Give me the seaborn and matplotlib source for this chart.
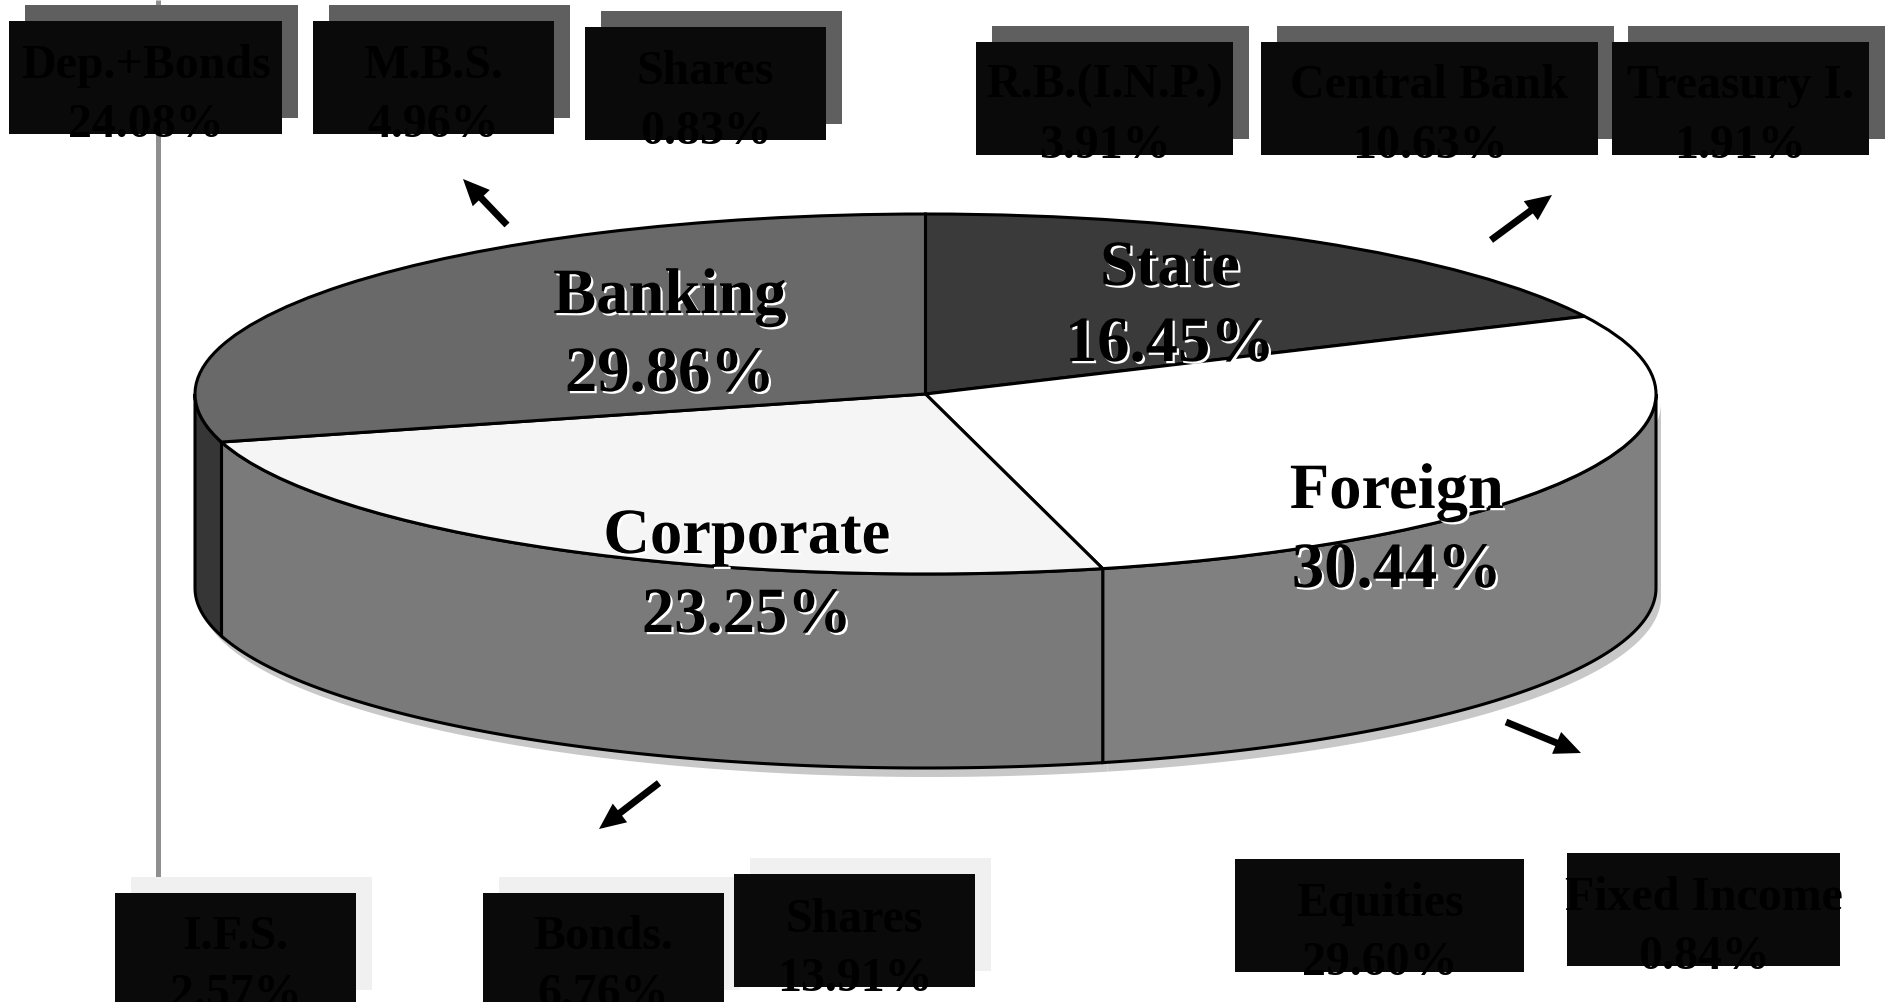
import numpy as np
import matplotlib
matplotlib.use("Agg")
import matplotlib.pyplot as plt
import matplotlib.patheffects as pe
from matplotlib.patches import Rectangle
import seaborn as sns

# pie data, clockwise from the top
sector_names = ["State", "Foreign", "Corporate", "Banking"]
sector_shares = [16.45, 30.44, 23.25, 29.86]
# slice sizes as they are drawn in the picture, the tilted view does not follow the printed shares
sector_drawn = [17.9, 28.2, 24.6, 29.3]

# small boxes around the pie
box_names = ["Dep.+Bonds", "M.B.S.", "Shares", "R.B.(I.N.P.)", "Central Bank", "Treasury I.",
             "I.F.S.", "Bonds.", "Shares", "Equities", "Fixed Income"]
box_shares = [24.08, 4.96, 0.83, 3.91, 10.63, 1.91, 2.57, 6.76, 13.91, 29.60, 0.84]

# layout in pixels: left, right, top of each box, first and second baseline
box_left = [9, 313, 585, 976, 1261, 1612, 115, 483, 734, 1235, 1567]
box_right = [282, 554, 826, 1233, 1598, 1869, 356, 724, 975, 1524, 1840]
box_top = [21, 21, 27, 42, 42, 42, 893, 893, 874, 859, 853]
box_base1 = [78, 78, 84, 98, 98, 98, 949, 949, 932, 916, 910]
box_base2 = [137, 137, 144, 158, 158, 158, 1007, 1007, 991, 975, 969]
box_shadow = ["#5f5f5f"] * 6 + ["#f0f0f0"] * 3 + ["white"] * 2
box_h = 113

label_x = [1170, 1397, 747, 670]
label_base1 = [285, 508, 553, 313]
label_base2 = [361, 587, 632, 391]

# tail and tip of the arrows
arrows = [((507, 225), (463, 179)), ((1491, 240), (1552, 195)),
          ((659, 783), (599, 829)), ((1506, 722), (1581, 753))]

top_colors = ["#3a3a3a", "#ffffff", "#f5f5f5", "#696969"]
side_colors = ["#3a3a3a", "#808080", "#7a7a7a", "#363636"]

sns.set_theme(style="white")
plt.rcParams["font.family"] = ["Liberation Serif", "DejaVu Serif"]
plt.rcParams["font.weight"] = "bold"

fig = plt.figure(figsize=(18.88, 10.02), dpi=100, facecolor="white")

# ellipse in pixels
cx, cy, rx, ry = 925.5, 394, 730.5, 180
depth = 194 / ry

ax = fig.add_axes([0, 0, 1, 1])
wedges, _ = ax.pie(sector_drawn, colors=top_colors, startangle=90, counterclock=False,
                   radius=1, wedgeprops={"edgecolor": "black", "linewidth": 2.2, "zorder": 5})
ax.set_aspect("auto")
ax.set_xlim(-cx / rx, (1888 - cx) / rx)
ax.set_ylim((cy - 1002) / ry, cy / ry)

# side wall, only the part of each slice facing the viewer
for w, col in zip(wedges, side_colors):
    t1 = max(w.theta1, -180)
    t2 = min(w.theta2, 0)
    if t1 >= t2:
        continue
    t = np.radians(np.linspace(t1, t2, 200))
    xs = np.r_[np.cos(t), np.cos(t[::-1])]
    ys = np.r_[np.sin(t), np.sin(t[::-1]) - depth]
    ax.fill(xs + 5 / rx, ys - 9 / ry, color="#c8c8c8", lw=0, zorder=1)
    ax.fill(xs, ys, facecolor=col, edgecolor="black", lw=2.2, zorder=2)

# overlay in pixel coordinates for labels and boxes
ov = fig.add_axes([0, 0, 1, 1])
ov.set_xlim(0, 1888)
ov.set_ylim(1002, 0)
ov.axis("off")
ov.patch.set_alpha(0)

ov.plot([157.5, 157.5], [0, 880], color="#8f8f8f", lw=3.6, zorder=1, solid_capstyle="butt")

shadow = [pe.withSimplePatchShadow(offset=(1.6, -1.6), shadow_rgbFace="white", alpha=1)]
for i, name in enumerate(sector_names):
    for txt, base in [(name, label_base1[i]), (f"{sector_shares[i]:.2f}%", label_base2[i])]:
        ov.text(label_x[i], base, txt, fontsize=46.5, ha="center", va="baseline", color="black",
                path_effects=shadow, zorder=3)

z = 4
for i, name in enumerate(box_names):
    left, right, top = box_left[i], box_right[i], box_top[i]
    ov.add_patch(Rectangle((left + 16, top - 16), right - left, box_h, facecolor=box_shadow[i], lw=0, zorder=z))
    ov.add_patch(Rectangle((left, top), right - left, box_h, facecolor="#0a0a0a", lw=0, zorder=z + 1))
    mid = (left + right) / 2
    ov.text(mid, box_base1[i], name, fontsize=34.5, ha="center", va="baseline", color="black", zorder=z + 2)
    ov.text(mid, box_base2[i], f"{box_shares[i]:.2f}%", fontsize=34.5, ha="center", va="baseline",
            color="black", zorder=z + 2)
    z += 3

for tail, tip in arrows:
    ov.annotate("", xy=tip, xytext=tail, zorder=3,
                arrowprops=dict(facecolor="black", edgecolor="black", lw=0, width=5, headwidth=17,
                                headlength=19, shrink=0))

fig.savefig("out.png", dpi=100)
